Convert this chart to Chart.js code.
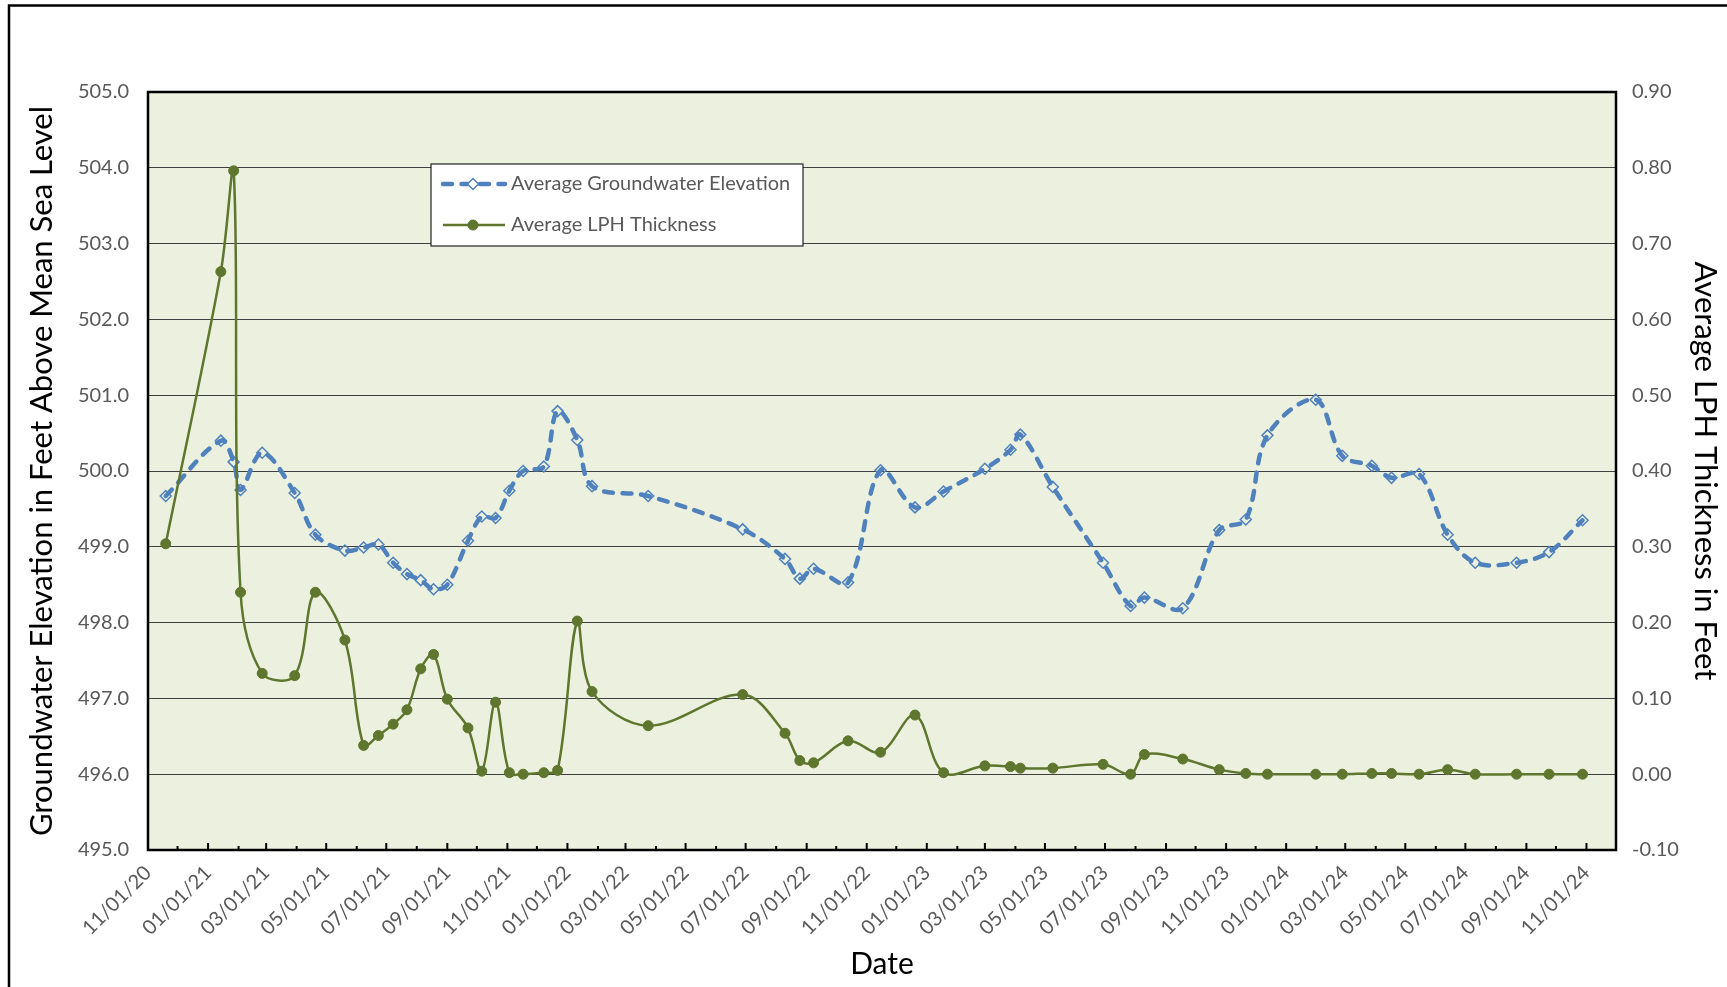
<!DOCTYPE html>
<html>
<head>
<meta charset="utf-8">
<script src="https://cdn.jsdelivr.net/npm/chart.js@4.4.1/dist/chart.umd.min.js"></script>
<style>
  html, body { margin: 0; padding: 0; background: #fff; }
  canvas { display: block; }
</style>
</head>
<body>
<canvas id="grafico" width="1727" height="987"></canvas>
<script>
// sample dates (MM/DD/YY)
const sampleDates = [
  '11/19/20', '01/14/21', '01/27/21', '02/03/21', '02/25/21', '03/30/21', '04/20/21', '05/20/21',
  '06/08/21', '06/23/21', '07/08/21', '07/22/21', '08/05/21', '08/18/21', '09/01/21', '09/22/21',
  '10/06/21', '10/20/21', '11/03/21', '11/17/21', '12/08/21', '12/22/21', '01/11/22', '01/26/22',
  '03/24/22', '06/28/22', '08/10/22', '08/25/22', '09/08/22', '10/13/22', '11/15/22', '12/20/22',
  '01/18/23', '03/01/23', '03/27/23', '04/06/23', '05/09/23', '06/29/23', '07/27/23', '08/10/23',
  '09/18/23', '10/25/23', '11/21/23', '12/13/23', '01/31/24', '02/27/24', '03/28/24', '04/17/24',
  '05/15/24', '06/13/24', '07/11/24', '08/22/24', '09/24/24', '10/28/24'
];

// Average Groundwater Elevation (ft above MSL)
const groundwater = [
  499.67, 500.40, 500.12, 499.75, 500.24, 499.71, 499.16, 498.95,
  498.99, 499.03, 498.79, 498.64, 498.56, 498.44, 498.50, 499.08,
  499.40, 499.38, 499.74, 500.00, 500.06, 500.79, 500.41, 499.80,
  499.67, 499.23, 498.84, 498.58, 498.71, 498.53, 500.01, 499.52,
  499.73, 500.03, 500.28, 500.48, 499.79, 498.79, 498.22, 498.33,
  498.19, 499.22, 499.36, 500.47, 500.94, 500.20, 500.07, 499.91,
  499.96, 499.16, 498.79, 498.79, 498.93, 499.35
];

// Average LPH Thickness (ft)
const lphThickness = [
  0.304, 0.663, 0.796, 0.240, 0.133, 0.130, 0.240, 0.177,
  0.038, 0.051, 0.066, 0.085, 0.139, 0.158, 0.099, 0.061,
  0.004, 0.095, 0.002, 0.000, 0.002, 0.005, 0.202, 0.109,
  0.064, 0.105, 0.054, 0.018, 0.015, 0.044, 0.029, 0.078,
  0.002, 0.011, 0.010, 0.008, 0.008, 0.013, 0.000, 0.026,
  0.020, 0.006, 0.001, 0.000, 0.000, 0.000, 0.001, 0.001,
  0.000, 0.006, 0.000, 0.000, 0.000, 0.000
];

const xTickLabels = [
  '11/01/20', '01/01/21', '03/01/21', '05/01/21', '07/01/21', '09/01/21', '11/01/21',
  '01/01/22', '03/01/22', '05/01/22', '07/01/22', '09/01/22', '11/01/22',
  '01/01/23', '03/01/23', '05/01/23', '07/01/23', '09/01/23', '11/01/23',
  '01/01/24', '03/01/24', '05/01/24', '07/01/24', '09/01/24', '11/01/24'
];
const xAxisEnd = '12/01/24';
const elevationTicks = [495, 496, 497, 498, 499, 500, 501, 502, 503, 504, 505];
const thicknessTicks = [-0.10, 0.00, 0.10, 0.20, 0.30, 0.40, 0.50, 0.60, 0.70, 0.80, 0.90];

const DAY = 86400000;
function parseDate(s) {
  const [m, d, y] = s.split('/').map(Number);
  return Date.UTC(2000 + y, m - 1, d);
}
const origin = parseDate(xTickLabels[0]);
const toDay = s => (parseDate(s) - origin) / DAY;
function fmtDay(v) {
  const dt = new Date(origin + v * DAY);
  const p = n => String(n).padStart(2, '0');
  return p(dt.getUTCMonth() + 1) + '/' + p(dt.getUTCDate()) + '/' + p(dt.getUTCFullYear() % 100);
}

// monthly tick positions between first label and axis end
function monthTicks() {
  const out = [];
  const start = new Date(origin);
  const end = parseDate(xAxisEnd);
  let y = start.getUTCFullYear(), m = start.getUTCMonth();
  while (Date.UTC(y, m, 1) <= end) {
    out.push({ value: (Date.UTC(y, m, 1) - origin) / DAY });
    m++;
    if (m > 11) { m = 0; y++; }
  }
  return out;
}

const font = 'Lato';
const tickColor = '#595959';
const blue = '#4F81BD';
const green = '#5E762D';

const plotBackground = {
  id: 'plotBackground',
  beforeDraw(chart) {
    const { ctx, chartArea: a } = chart;
    ctx.save();
    ctx.fillStyle = '#fff';
    ctx.fillRect(0, 0, chart.width, chart.height);
    ctx.fillStyle = '#EBF1DE';
    ctx.fillRect(a.left, a.top, a.right - a.left, a.bottom - a.top);
    // outer frame (left and top visible)
    ctx.strokeStyle = '#000';
    ctx.lineWidth = 2.5;
    ctx.beginPath();
    ctx.moveTo(9, chart.height);
    ctx.lineTo(9, 5.5);
    ctx.lineTo(chart.width, 5.5);
    ctx.stroke();
    ctx.restore();
  },
  beforeDatasetsDraw(chart) {
    const { ctx, chartArea: a } = chart;
    const xs = chart.scales.x;
    ctx.save();
    ctx.strokeStyle = '#000';
    ctx.lineWidth = 2;
    xs.ticks.forEach(t => {
      const px = xs.getPixelForValue(t.value);
      const len = t.label ? 7 : 4;
      ctx.beginPath();
      ctx.moveTo(px, a.bottom);
      ctx.lineTo(px, a.bottom - len);
      ctx.stroke();
    });
    ctx.lineWidth = 2.5;
    ctx.strokeRect(a.left, a.top, a.right - a.left, a.bottom - a.top);
    ctx.restore();
  }
};

const boxLegend = {
  id: 'boxLegend',
  afterDatasetsDraw(chart) {
    const { ctx } = chart;
    const box = { x: 431, y: 164, w: 372, h: 82 };
    ctx.save();
    ctx.fillStyle = '#fff';
    ctx.fillRect(box.x, box.y, box.w, box.h);
    ctx.strokeStyle = '#222';
    ctx.lineWidth = 1.2;
    ctx.strokeRect(box.x, box.y, box.w, box.h);
    const rows = [box.y + 20, box.y + 61];
    chart.data.datasets.forEach((ds, i) => {
      const y = rows[i];
      const cx = box.x + 42;
      ctx.strokeStyle = ds.borderColor;
      ctx.lineWidth = ds.borderWidth;
      ctx.lineCap = ds.borderCapStyle || 'butt';
      ctx.setLineDash(ds.borderDash || []);
      ctx.beginPath();
      ctx.moveTo(box.x + 12, y);
      ctx.lineTo(box.x + 74, y);
      ctx.stroke();
      ctx.setLineDash([]);
      ctx.strokeStyle = ds.pointBorderColor;
      ctx.lineWidth = ds.pointBorderWidth;
      ctx.beginPath();
      const r = ds.pointRadius;
      if (ds.pointStyle === 'rectRot') {
        ctx.fillStyle = '#fff';
        ctx.moveTo(cx, y - r); ctx.lineTo(cx + r, y);
        ctx.lineTo(cx, y + r); ctx.lineTo(cx - r, y); ctx.closePath();
      } else {
        ctx.fillStyle = ds.pointBackgroundColor;
        ctx.arc(cx, y, r, 0, Math.PI * 2);
      }
      ctx.fill();
      ctx.stroke();
      ctx.fillStyle = tickColor;
      ctx.font = '20px ' + font;
      ctx.textBaseline = 'middle';
      ctx.fillText(ds.label, box.x + 80, y);
    });
    ctx.restore();
  }
};

new Chart(document.getElementById('grafico'), {
  type: 'line',
  data: {
    datasets: [
      {
        label: 'Average Groundwater Elevation',
        data: sampleDates.map((d, i) => ({ x: toDay(d), y: groundwater[i] })),
        yAxisID: 'y',
        borderColor: blue,
        borderWidth: 4.5,
        borderDash: [9, 9.5],
        borderCapStyle: 'round',
        pointStyle: 'rectRot',
        pointRadius: 5.5,
        pointBorderWidth: 1.5,
        pointBorderColor: blue,
        pointBackgroundColor: 'rgba(0,0,0,0)',
        tension: 0.35,
        order: 1
      },
      {
        label: 'Average LPH Thickness',
        data: sampleDates.map((d, i) => ({ x: toDay(d), y: lphThickness[i] })),
        yAxisID: 'y1',
        borderColor: green,
        borderWidth: 2.5,
        pointStyle: 'circle',
        pointRadius: 5,
        pointBorderWidth: 1,
        pointBorderColor: green,
        pointBackgroundColor: green,
        tension: 0.35,
        order: 0
      }
    ]
  },
  options: {
    responsive: false,
    animation: false,
    devicePixelRatio: 1,
    layout: { padding: { top: 92, left: 0, right: 0, bottom: 0 } },
    plugins: { legend: { display: false }, tooltip: { enabled: false } },
    scales: {
      x: {
        type: 'linear',
        min: 0,
        max: toDay(xAxisEnd),
        afterBuildTicks: s => { s.ticks = monthTicks(); },
        afterFit: s => { s.height = 137; },
        grid: { display: false },
        border: { display: false },
        ticks: {
          autoSkip: false,
          minRotation: 45,
          maxRotation: 45,
          padding: 3,
          color: tickColor,
          font: { family: font, size: 20 },
          callback: v => {
            const lab = fmtDay(v);
            return xTickLabels.includes(lab) ? lab : '';
          }
        },
        title: {
          display: true,
          text: 'Date',
          color: '#000',
          font: { family: font, size: 30 },
          padding: { top: 0, bottom: 5 }
        }
      },
      y: {
        position: 'left',
        min: elevationTicks[0],
        max: elevationTicks[elevationTicks.length - 1],
        afterFit: s => { s.width = 148; },
        afterBuildTicks: s => { s.ticks = elevationTicks.map(v => ({ value: v })); },
        grid: { color: '#404040', lineWidth: 1, drawTicks: false },
        border: { display: false },
        ticks: {
          padding: 19,
          color: tickColor,
          font: { family: font, size: 20 },
          callback: v => Number(v).toFixed(1)
        },
        title: {
          display: true,
          text: 'Groundwater Elevation in Feet Above Mean Sea Level',
          color: '#000',
          font: { family: font, size: 31 },
          padding: { top: 23.4, bottom: 0 }
        }
      },
      y1: {
        position: 'right',
        min: thicknessTicks[0],
        max: thicknessTicks[thicknessTicks.length - 1],
        afterFit: s => { s.width = 111; },
        afterBuildTicks: s => { s.ticks = thicknessTicks.map(v => ({ value: v })); },
        grid: { display: false, drawTicks: false },
        border: { display: false },
        ticks: {
          padding: 16,
          color: tickColor,
          font: { family: font, size: 20 },
          callback: v => Number(v).toFixed(2)
        },
        title: {
          display: true,
          text: 'Average LPH Thickness in Feet',
          color: '#000',
          font: { family: font, size: 31 },
          padding: { top: 3.4, bottom: 0 }
        }
      }
    }
  },
  plugins: [plotBackground, boxLegend]
});
</script>
</body>
</html>
